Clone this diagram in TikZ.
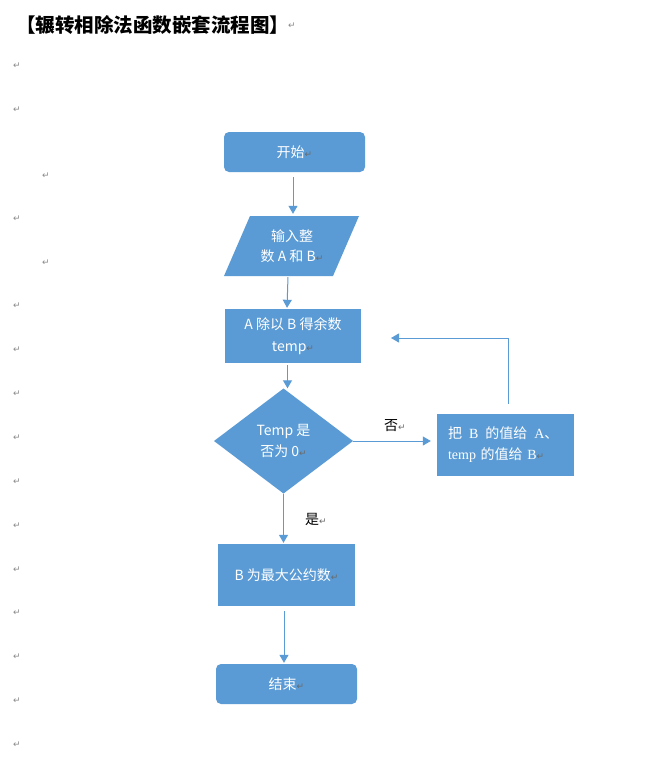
\documentclass[tikz,border=0pt]{standalone}
\usepackage{fontspec}
\setmainfont{Noto Sans CJK SC}
\newfontfamily\serifl{Liberation Serif}
\newfontfamily\symf{DejaVu Sans}
\usetikzlibrary{arrows.meta}
\definecolor{wblue}{HTML}{5B9BD5}
\definecolor{pmgray}{HTML}{8A8A8A}
\definecolor{pmdark}{HTML}{6A6A6A}
\newcommand{\pmark}{{\symf\fontsize{9}{9}\selectfont\textcolor{pmdark}{↵}}}
\tikzset{
  box/.style={fill=wblue, draw=none, inner sep=0pt, text=white,
    font=\fontsize{14}{21}\selectfont, align=center},
  term/.style={box, rounded corners=5pt},
  conn/.style={draw=wblue, line width=1pt, -{Triangle[length=8pt,width=9pt]}},
  pmk/.style={text=pmgray, font=\symf\fontsize{9}{9}\selectfont, inner sep=0pt},
  lbl/.style={inner sep=0pt, font=\fontsize{14}{16}\selectfont, text=black},
}
\begin{document}
\begin{tikzpicture}[x=1pt,y=-1pt]
\useasboundingbox[fill=white] (0,0) rectangle (659,761);
% title
\node[anchor=west, inner sep=0pt, font=\bfseries\fontsize{19.5}{19.5}\selectfont] (title) at (16,25) {【辗转相除法函数嵌套流程图】};
\node[pmk] (titlepm) at (292,26) {↵};
% margin paragraph marks
\foreach \yy [count=\i] in {66,110,219,306,350,394,438,482,526,570,613,657,701,745}
  \node[pmk] (lm\i) at (17,\yy) {↵};
\node[pmk] (im1) at (46,176) {↵};
\node[pmk] (im2) at (46,263) {↵};
% start
\node[term, minimum width=141pt, minimum height=40pt] (start) at (294.5,152) {开始\pmark};
% input parallelogram
\fill[wblue] (250,216) -- (359,216) -- (333,276) -- (224,276) -- cycle;
\node[box, fill=none, minimum width=109pt, minimum height=60pt, font=\fontsize{14}{20}\selectfont] (inp) at (292,246) {输入整\\数 A 和 B\pmark};
% division box
\node[box, minimum width=136pt, minimum height=54pt, font=\fontsize{14}{22}\selectfont] (div) at (293,336) {A 除以 B 得余数\\temp\pmark};
% diamond
\fill[wblue] (283.5,388.5) -- (353,441) -- (283.5,493.5) -- (214,441) -- cycle;
\node[box, fill=none, minimum width=139pt, minimum height=105pt] (dia) at (283.5,441) {Temp 是\\否为 0\pmark};
% swap box
\node[box, minimum width=137pt, minimum height=62pt, text width=115pt, align=left] (swap) at (505.5,445)
  {把 \,{\serifl B}\, 的值给 \,{\serifl A}、\\{\serifl temp} 的值给 {\serifl B}\pmark};
% gcd box
\node[box, minimum width=137pt, minimum height=62pt] (gcd) at (286.5,575) {B 为最大公约数\pmark};
% end
\node[term, minimum width=141pt, minimum height=40pt] (stop) at (286.5,684) {结束\pmark};
% feedback coordinate
\coordinate (fb) at (391,338);
% connectors
\draw[conn, shorten <=5pt, shorten >=2pt] ([xshift=-1.5pt]start.south) -- ([xshift=-1.5pt]start.south |- inp.north);
\draw[conn, shorten <=1pt, shorten >=1pt] ([xshift=-4pt]inp.south) -- ([xshift=-6pt]div.north);
\draw[conn, shorten <=2pt] ([xshift=-5.5pt]div.south) -- ([xshift=-5.5pt]div.south |- dia.north);
\draw[conn, shorten >=6pt] (dia.east) -- (dia.east -| swap.west);
\draw[conn] ([xshift=2.5pt,yshift=10pt]swap.north) |- (fb);
\draw[conn, shorten >=1pt] (dia.south) -- (dia.south |- gcd.north);
\draw[conn, shorten <=5pt, shorten >=1pt] ([xshift=-2.5pt]gcd.south) -- ([xshift=-2.5pt]gcd.south |- stop.north);
% branch labels
\node[lbl] (no) at (395,426) {否\pmark};
\node[lbl] (yes) at (316,519) {是\pmark};
\end{tikzpicture}
\end{document}
